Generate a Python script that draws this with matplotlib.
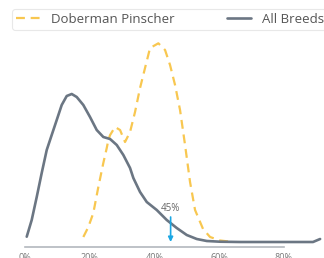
import matplotlib.pyplot as plt

# x in percent, y in relative density units
all_x = [0.53, 2.07, 3.62, 5.16, 6.71, 8.25, 9.80, 11.34, 12.89, 14.44, 15.98,
         18.02, 20.09, 22.16, 24.20, 26.28, 28.35, 30.39, 32.46, 33.48, 35.55,
         37.62, 40.71, 43.80, 46.89, 49.98, 53.08, 56.17, 60.28, 66.5, 80.0,
         89.0, 91.2]
all_y = [5.3, 22, 45, 69, 92, 107, 122, 137, 146, 148, 145,
         137, 125, 112, 105, 103, 97, 87, 74, 64, 50,
         40, 32, 22, 14, 7, 3, 1, 0.3, 0, 0,
         0, 3]

dob_x = [18.02, 19.57, 21.11, 22.66, 24.20, 25.26, 25.75, 26.3, 27.82, 29.37,
         30.91, 32.46, 34.00, 35.55, 37.09, 38.64, 41.21, 43.28, 44.82, 46.37,
         47.91, 49.46, 51.00, 52.55, 55.02, 57.19, 60.28, 64.30]
dob_y = [5, 15, 29, 55, 79, 94, 102, 107, 115, 112,
         100, 110, 130, 154, 174, 194, 198.7, 192, 177, 157,
         132, 97, 60, 32, 13, 5, 1.5, 0]

ticks = [0, 20, 40, 60, 80]
tick_labels = ['0%', '20%', '40%', '60%', '80%']
marker_x = 45
marker_label = '45%'

plt.rcParams['font.family'] = ['Open Sans', 'DejaVu Sans']

fig = plt.figure(figsize=(3.24, 2.58), dpi=100)
ax = fig.add_axes([0, 11 / 258, 1, 212 / 258])
ax.set_xlim(-7.73, 92.4)
ax.set_ylim(-5, 207)

l1, = ax.plot(dob_x, dob_y, color='#f8c750', lw=1.6, ls=(0, (4, 2.6)),
              dash_capstyle='butt', label='Doberman Pinscher')
l2, = ax.plot(all_x, all_y, color='#6b7683', lw=1.9, solid_capstyle='round',
              solid_joinstyle='round', label='All Breeds')

ax.annotate('', xy=(marker_x, 0), xytext=(marker_x, 25),
            arrowprops=dict(arrowstyle='-|>', color='#1aa7e4', lw=1.2,
                            mutation_scale=7, shrinkA=0, shrinkB=0))
ax.text(marker_x, 28, marker_label, ha='center', va='bottom', fontsize=7,
        color='#666666')

for s in ['top', 'right', 'left']:
    ax.spines[s].set_visible(False)
ax.spines['bottom'].set_bounds(0, 80)
ax.spines['bottom'].set_color('#b3b8bd')
ax.spines['bottom'].set_linewidth(1.2)
ax.set_yticks([])
ax.set_xticks(ticks)
ax.set_xticklabels(tick_labels, fontsize=6.5, color='#777777')
ax.tick_params(axis='x', length=0, pad=4)

leg = fig.legend(handles=[l1, l2], loc='upper left', ncol=2,
                 bbox_to_anchor=(12 / 324, 1 - 9 / 258), fontsize=9.5,
                 frameon=True, handlelength=1.8, columnspacing=4.0,
                 borderpad=0.3, borderaxespad=0, handletextpad=0.85)
leg.get_frame().set_edgecolor('#e3e3e3')
leg.get_frame().set_linewidth(0.8)
for t in leg.get_texts():
    t.set_color('#555555')

fig.savefig('out.png', dpi=100)
